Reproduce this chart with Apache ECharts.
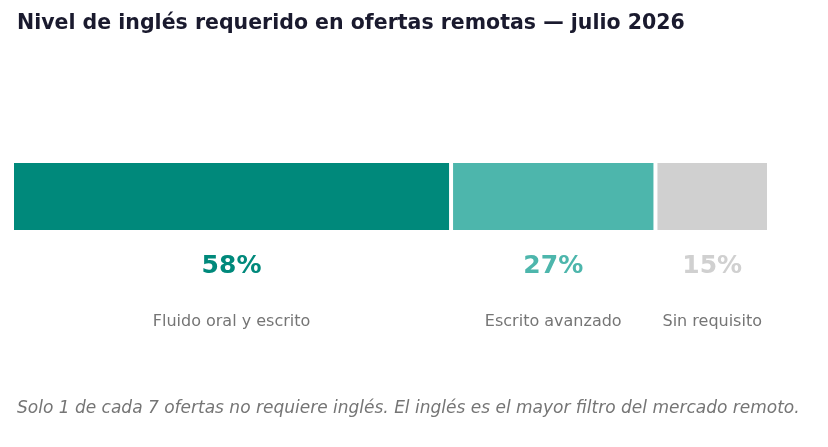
<!DOCTYPE html>
<html><head><meta charset="utf-8">
<script src="https://cdn.jsdelivr.net/npm/echarts@6/dist/echarts.min.js"></script>
<style>html,body{margin:0;padding:0;background:#fff}#c{width:828px;height:447px}</style>
</head><body><div id="c"></div>
<script>
const categories = ['Fluido oral y escrito', 'Escrito avanzado', 'Sin requisito'];
const values = [58, 27, 15];
const colors = ['#00897B', '#4DB6AC', '#D0D0D0'];
const titleText = 'Nivel de inglés requerido en ofertas remotas — julio 2026';
const noteText = 'Solo 1 de cada 7 ofertas no requiere inglés. El inglés es el mayor filtro del mercado remoto.';

const font = 'DejaVu Sans';
const chart = echarts.init(document.getElementById('c'), null, {renderer: 'canvas'});
const series = categories.map((name, i) => ({
  type: 'bar', name, stack: 'total', barWidth: 71,
  data: [values[i]],
  itemStyle: {color: colors[i], borderColor: '#fff', borderWidth: 2},
  label: {
    show: true, position: 'bottom', distance: 14,
    formatter: '{p|' + values[i] + '%}\n{n|' + name + '}',
    rich: {
      p: {fontFamily: font, fontSize: 25, fontWeight: 'bold', color: colors[i], lineHeight: 40, align: 'center'},
      n: {fontFamily: font, fontSize: 16, color: '#757575', lineHeight: 72, align: 'center'}
    }
  },
  emphasis: {disabled: true}
}));
chart.setOption({
  animation: false,
  title: [
    {text: titleText, left: 12, top: 8, textStyle: {fontFamily: font, fontSize: 20.5, fontWeight: 'bold', color: '#1a1a2e'}},
    {text: noteText, left: 12, top: 395, textStyle: {fontFamily: font, fontSize: 17, fontStyle: 'italic', fontWeight: 'normal', color: '#757575'}}
  ],
  grid: {left: 12, width: 757, top: 161, height: 71},
  xAxis: {type: 'value', min: 0, max: 100, show: false},
  yAxis: {type: 'category', data: ['x'], show: false},
  series
});
</script></body></html>
